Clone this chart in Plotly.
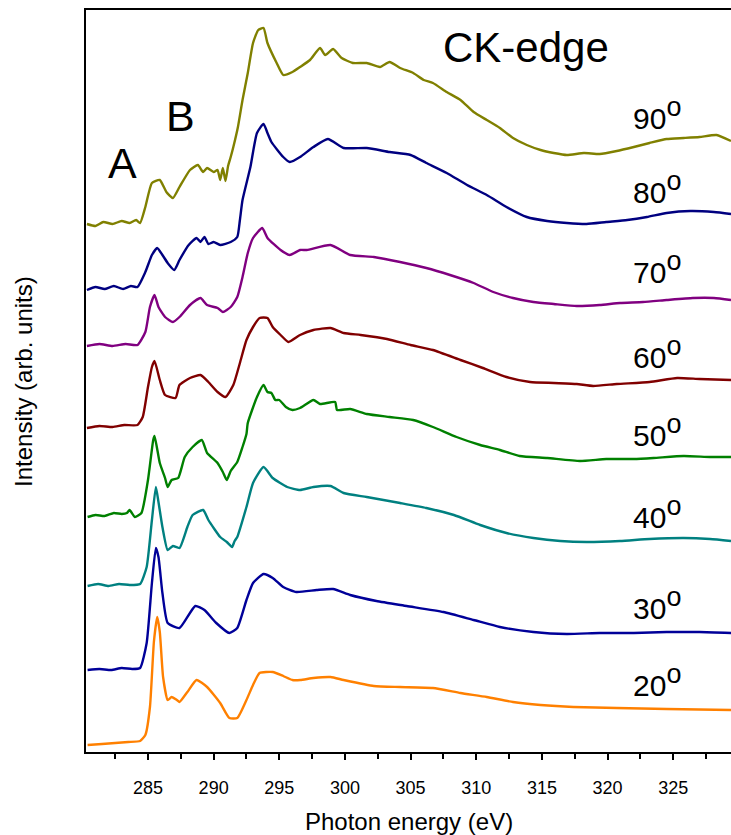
import plotly.graph_objects as go

# Photon energy (eV) and intensity (arb. units, vertically offset) for each angle
angles = ["20", "30", "40", "50", "60", "70", "80", "90"]
colors = ["#FF8000", "#000099", "#008080", "#008000", "#800000", "#800080", "#000080", "#808000"]

e20 = [280.4, 281.5, 282.5, 283.5, 284.4, 284.8, 285.15, 285.45, 285.7, 285.9, 286.15, 286.5, 286.8, 287.2, 287.4, 288.0, 288.7, 289.5, 290.5, 291.2, 291.8, 292.5, 293.0, 293.5, 294.5, 295.3, 296.0, 296.6, 297.6, 298.9, 299.9, 302.2, 304.2, 306.7, 308.8, 310.8, 312.8, 314.9, 317.4, 320.7, 324.5, 329.4]
i20 = [7, 8, 9, 10, 11, 17, 45, 110, 135, 120, 75, 52, 55, 52, 50, 60, 72, 65, 49, 34, 34, 52, 67, 79, 80, 76, 72, 72, 74, 75, 72, 66, 65, 64, 59, 55, 50, 47, 45, 44, 43, 42]

e30 = [280.4, 281.3, 282.2, 283.0, 283.8, 284.4, 284.9, 285.3, 285.6, 285.8, 286.1, 286.5, 287.4, 288.6, 289.3, 290.2, 291.2, 291.8, 292.5, 293.0, 293.8, 294.5, 295.3, 296.3, 297.85, 299.1, 300.4, 302.4, 304.7, 307.5, 309.8, 311.8, 314.35, 316.9, 319.4, 322.0, 324.5, 327.0, 329.4]
i30 = [82, 83, 82, 84, 83, 84, 109, 169, 204, 195, 159, 129, 124, 146, 142, 129, 119, 124, 152, 169, 178, 174, 165, 160, 162, 163, 157, 151, 146, 140, 132, 125, 120, 118, 119, 119, 120, 120, 119]

e40 = [280.4, 281.2, 282.0, 282.8, 283.6, 284.4, 284.9, 285.3, 285.6, 285.8, 286.1, 286.5, 286.9, 287.4, 288.0, 288.4, 289.2, 289.6, 290.5, 291.0, 291.4, 291.6, 291.8, 292.5, 293.0, 293.8, 294.5, 295.6, 296.58, 297.6, 298.9, 299.9, 301.66, 304.2, 306.2, 308.3, 310.3, 312.3, 314.35, 316.4, 318.4, 320.95, 323.2, 325.8, 327.8, 329.4]
i40 = [166, 168, 166, 168, 167, 168, 185, 232, 265, 250, 225, 202, 206, 204, 225, 237, 242, 232, 215, 210, 205, 211, 215, 245, 269, 285, 274, 265, 262, 265, 266, 259, 255, 249, 244, 237, 227, 219, 214, 211, 210, 211, 213, 214, 213, 211]

e50 = [280.4, 281.0, 281.7, 282.4, 283.0, 283.4, 283.6, 284.0, 284.5, 285.0, 285.4, 285.5, 285.9, 286.3, 286.5, 286.8, 287.3, 287.8, 288.4, 289.1, 289.5, 290.3, 290.7, 291.0, 291.3, 291.8, 292.2, 292.5, 292.6, 293.3, 293.8, 294.1, 294.4, 294.7, 295.0, 295.5, 296.0, 296.58, 297.6, 298.1, 299.25, 299.4, 300.4, 301.66, 303.4, 305.2, 306.7, 308.5, 310.3, 311.8, 313.3, 315.4, 317.9, 319.9, 322.0, 323.5, 325.8, 327.8, 329.4]
i50 = [235, 237, 236, 239, 238, 239, 242, 235, 239, 272, 312, 316, 289, 274, 265, 272, 274, 295, 305, 312, 299, 289, 280, 272, 281, 290, 305, 318, 329, 355, 367, 360, 359, 352, 352, 345, 342, 344, 352, 348, 350, 342, 343, 338, 335, 332, 325, 315, 307, 302, 296, 294, 291, 293, 293, 294, 296, 295, 295]

e60 = [280.35, 281.3, 282.3, 283.2, 284.2, 284.6, 285.0, 285.3, 285.5, 285.9, 286.3, 287.1, 287.4, 288.2, 289.0, 289.6, 290.3, 290.9, 291.5, 292.0, 292.5, 293.0, 293.5, 294.1, 294.5, 295.1, 295.7, 296.58, 297.6, 298.9, 299.9, 301.2, 303.2, 305.0, 306.7, 308.8, 310.5, 312.3, 314.1, 315.9, 317.65, 318.9, 320.7, 323.2, 325.3, 327.0, 329.4]
i60 = [324, 326, 325, 327, 327, 335, 365, 385, 391, 372, 357, 354, 367, 374, 377, 370, 360, 355, 367, 389, 412, 425, 434, 434, 425, 417, 410, 417, 422, 424, 419, 417, 413, 407, 402, 392, 384, 375, 370, 369, 368, 366, 368, 370, 374, 373, 372]

e70 = [280.35, 281.3, 282.3, 283.3, 284.2, 284.8, 285.15, 285.5, 285.8, 286.3, 286.9, 287.4, 288.2, 289.0, 289.5, 290.3, 290.7, 291.3, 291.8, 292.2, 292.6, 293.0, 293.7, 294.1, 295.1, 295.8, 296.58, 297.1, 298.9, 300.4, 302.2, 304.2, 306.2, 308.0, 309.8, 311.3, 312.8, 314.35, 315.9, 317.65, 319.4, 320.95, 322.7, 324.5, 326.5, 328.1, 329.4]
i70 = [406, 408, 406, 408, 407, 420, 445, 457, 445, 435, 430, 435, 447, 454, 447, 444, 440, 445, 455, 475, 499, 514, 524, 514, 502, 497, 502, 502, 507, 497, 495, 490, 484, 477, 469, 460, 454, 450, 448, 446, 447, 449, 450, 452, 454, 454, 452]

e80 = [280.35, 281.0, 281.7, 282.4, 283.1, 283.7, 284.2, 284.8, 285.3, 285.7, 286.1, 286.5, 287.0, 287.4, 288.1, 288.7, 289.0, 289.3, 289.6, 290.0, 290.5, 291.3, 291.8, 292.0, 292.2, 292.8, 293.3, 293.8, 294.1, 294.4, 295.3, 295.8, 296.58, 297.6, 298.7, 299.9, 301.66, 303.4, 305.0, 306.2, 307.75, 309.3, 310.8, 312.3, 313.85, 315.4, 316.9, 318.4, 319.9, 321.5, 323.0, 324.5, 326.3, 328.1, 329.4]
i80 = [462, 465, 463, 466, 463, 466, 465, 480, 497, 504, 497, 489, 482, 492, 507, 514, 510, 515, 508, 510, 507, 510, 515, 532, 552, 585, 619, 628, 619, 610, 595, 590, 595, 605, 613, 604, 604, 600, 597, 589, 579, 567, 557, 545, 535, 531, 529, 528, 530, 532, 535, 539, 541, 540, 538]

e90 = [280.35, 281.0, 281.6, 282.3, 283.0, 283.6, 284.1, 284.4, 284.8, 285.3, 285.9, 286.4, 286.9, 287.4, 288.2, 288.8, 289.2, 289.5, 290.0, 290.3, 290.5, 290.7, 290.9, 291.1, 291.3, 291.5, 291.85, 292.2, 292.6, 293.0, 293.4, 293.8, 294.1, 294.8, 295.3, 296.0, 296.58, 297.34, 298.1, 298.5, 299.1, 299.75, 300.6, 301.66, 302.67, 303.4, 304.2, 305.2, 306.0, 306.7, 307.75, 308.8, 309.8, 310.8, 311.8, 312.8, 313.85, 314.9, 315.9, 316.9, 318.2, 319.4, 320.7, 322.0, 323.2, 324.5, 325.8, 327.0, 328.3, 329.4]
i90 = [528, 526, 530, 528, 531, 529, 532, 529, 545, 569, 572, 560, 554, 565, 582, 587, 580, 584, 580, 582, 572, 584, 571, 586, 595, 605, 625, 652, 679, 709, 722, 724, 709, 689, 677, 680, 685, 692, 704, 697, 703, 694, 689, 689, 685, 690, 684, 679, 672, 669, 660, 652, 640, 632, 624, 614, 607, 602, 599, 597, 599, 598, 601, 605, 609, 613, 614, 615, 617, 611]

energies = [e20, e30, e40, e50, e60, e70, e80, e90]
intens = [i20, i30, i40, i50, i60, i70, i80, i90]

fig = go.Figure()
for name, c, ex, iy in zip(angles, colors, energies, intens):
    fig.add_trace(go.Scatter(x=ex, y=iy, mode="lines", name=name + "°",
                             line=dict(color=c, width=2.4, shape="spline", smoothing=0.5),
                             showlegend=False))

FONT = "Liberation Sans, Arial, sans-serif"

fig.update_layout(
    width=731, height=835,
    margin=dict(l=86, r=0, t=10, b=83),
    paper_bgcolor="white", plot_bgcolor="white",
    font=dict(family=FONT, color="black"),
    showlegend=False,
)
fig.update_xaxes(
    range=[280.28, 329.4], showgrid=False, zeroline=False,
    showline=True, linecolor="black", linewidth=2, mirror=True,
    tickmode="linear", tick0=285, dtick=5,
    ticks="outside", ticklen=6, tickwidth=1.5, tickcolor="black",
    minor=dict(ticks="outside", dtick=2.5, tick0=282.5, ticklen=5, tickwidth=1.5, tickcolor="black"),
    tickfont=dict(size=18, family=FONT), ticklabelstandoff=12,
)
fig.update_yaxes(
    range=[0, 742], showgrid=False, zeroline=False,
    showline=True, linecolor="black", linewidth=2, mirror=False,
    showticklabels=False, ticks="",
)

ann = []
ann.append(dict(text="Photon energy (eV)", x=0.5, y=-0.0943, xref="paper", yref="paper",
                showarrow=False, font=dict(size=24), xanchor="center", yanchor="middle"))
ann.append(dict(text="Intensity (arb. units)", x=-0.0977, y=0.5, xref="paper", yref="paper",
                showarrow=False, font=dict(size=24), textangle=-90, xanchor="center", yanchor="middle"))
ann.append(dict(text="A", x=0.057, y=0.794, xref="paper", yref="paper", showarrow=False,
                font=dict(size=43), xanchor="center", yanchor="middle"))
ann.append(dict(text="B", x=0.147, y=0.857, xref="paper", yref="paper", showarrow=False,
                font=dict(size=43), xanchor="center", yanchor="middle"))
ann.append(dict(text="CK-edge", x=0.682, y=0.949, xref="paper", yref="paper", showarrow=False,
                font=dict(size=42), xanchor="center", yanchor="middle"))
label_y = [680, 603, 512, 430, 352, 268, 188, 113]
for a, py in zip(angles, label_y):
    ann.append(dict(text=a + "<sup><span style='font-size:27px'>o</span></sup>",
                    x=0.885, y=(752 - py) / 742, xref="paper", yref="paper",
                    showarrow=False, font=dict(size=30), xanchor="center", yanchor="middle"))
fig.update_layout(annotations=ann)

fig.write_html("out.html", config={"displayModeBar": False},
               post_script="document.body.style.margin='0';document.body.style.overflow='hidden';")
